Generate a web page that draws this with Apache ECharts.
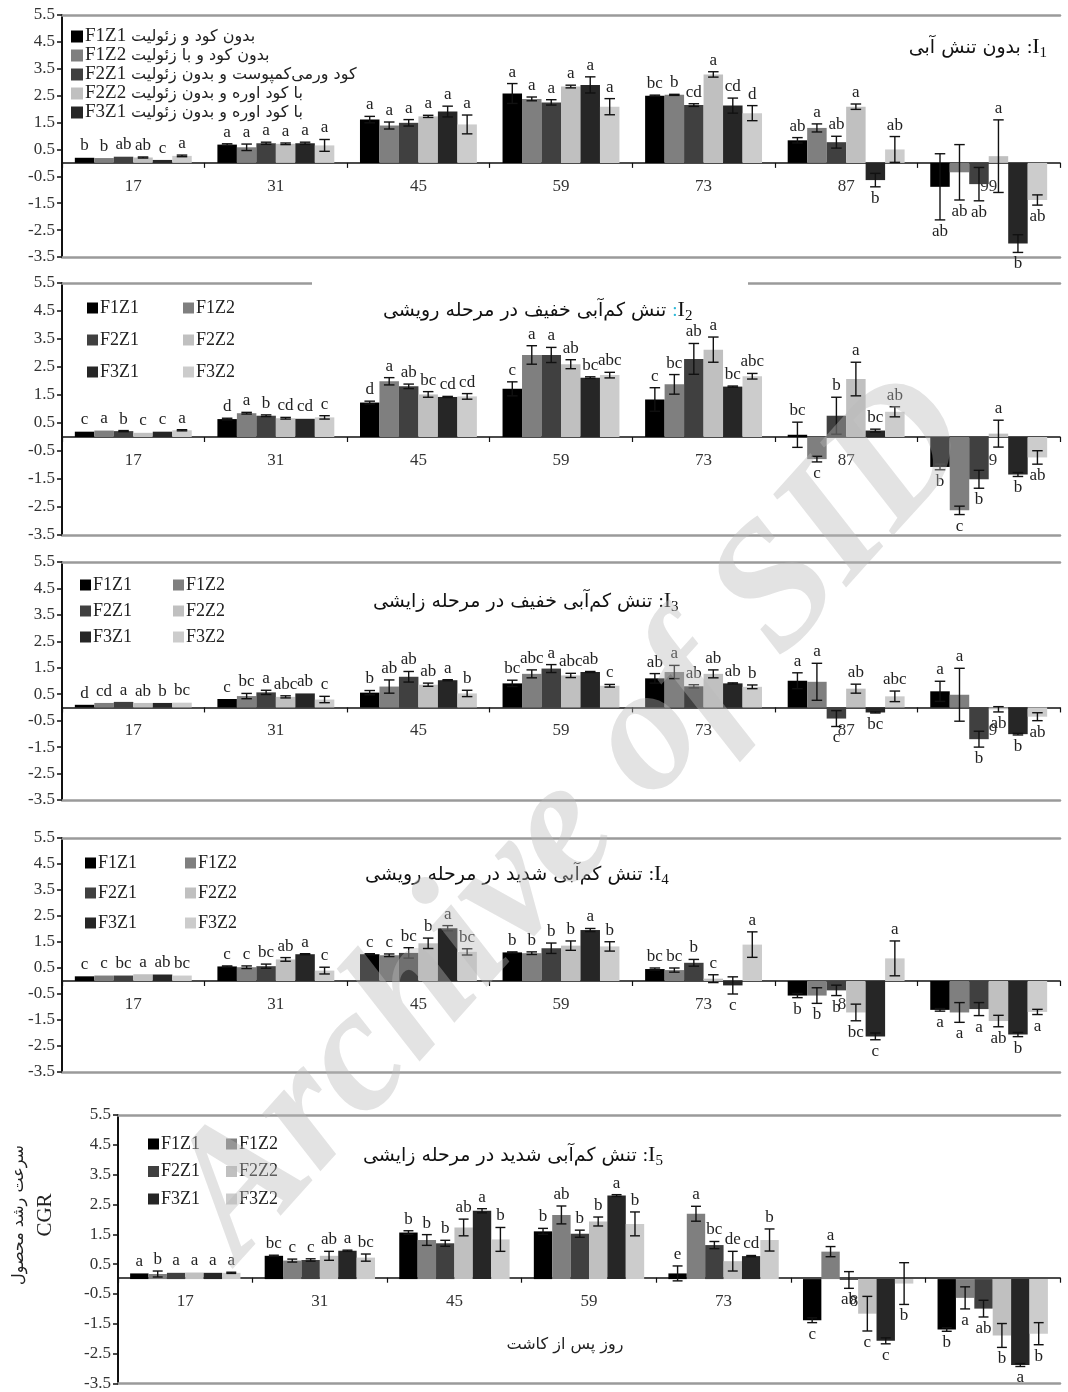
<!DOCTYPE html>
<html><head><meta charset="utf-8">
<script src="https://cdn.jsdelivr.net/npm/echarts@6/dist/echarts.min.js"></script>
<style>html,body{margin:0;padding:0;background:#fff}#c{width:1068px;height:1392px}</style>
</head><body><div id="c"></div>
<script>
// ---------- data ----------
const categories = ['17','31','45','59','73','87','99'];
const seriesNames = ['F1Z1','F1Z2','F2Z1','F2Z2','F3Z1','F3Z2'];
const seriesColors = ['#000000','#7f7f7f','#404040','#c0c0c0','#262626','#cccccc'];
const yTicks = [-3.5,-2.5,-1.5,-0.5,0.5,1.5,2.5,3.5,4.5,5.5];
const legendPersian = ['بدون کود و زئولیت','بدون کود و با زئولیت','کود ورمی‌کمپوست و بدون زئولیت','با کود اوره و بدون زئولیت','با کود اوره و بدون زئولیت'];
const panelTitles = ['بدون تنش آبی','تنش کم‌آبی خفیف در مرحله رویشی','تنش کم‌آبی خفیف در مرحله زایشی','تنش کم‌آبی شدید در مرحله رویشی','تنش کم‌آبی شدید در مرحله زایشی'];
const yAxisTitle = 'سرعت رشد محصول';
const yAxisTitle2 = 'CGR';
const xAxisTitle = 'روز پس از کاشت';

const I1_mean = [
  [0.19, 0.68, 1.61, 2.58, 2.50, 0.84, -0.89],
  [0.18, 0.58, 1.39, 2.38, 2.53, 1.30, -0.35],
  [0.23, 0.73, 1.49, 2.25, 2.15, 0.77, -0.79],
  [0.20, 0.71, 1.73, 2.84, 3.29, 2.09, 0.25],
  [0.11, 0.73, 1.91, 2.90, 2.13, -0.64, -3.00],
  [0.26, 0.65, 1.43, 2.09, 1.85, 0.50, -1.38]];
const I1_se = [
  [0.01, 0.03, 0.12, 0.37, 0.02, 0.10, 1.23],
  [0.01, 0.12, 0.13, 0.07, 0.02, 0.15, 1.03],
  [0.01, 0.04, 0.12, 0.10, 0.05, 0.22, 0.62],
  [0.02, 0.03, 0.04, 0.05, 0.10, 0.10, 1.35],
  [0.01, 0.04, 0.20, 0.30, 0.28, 0.25, 0.33],
  [0.03, 0.22, 0.35, 0.30, 0.28, 0.48, 0.19]];
const I1_letters = [
  ['b','a','a','a','bc','ab','ab'],
  ['b','a','a','a','b','a','ab'],
  ['ab','a','a','a','cd','ab','ab'],
  ['ab','a','a','a','a','a','a'],
  ['c','a','a','a','cd','b','b'],
  ['a','a','a','a','d','ab','ab']];

const I2_mean = [
  [0.19, 0.64, 1.23, 1.72, 1.34, 0.08, -1.07],
  [0.23, 0.85, 1.99, 2.93, 1.88, -0.79, -2.62],
  [0.21, 0.76, 1.81, 2.93, 2.79, 0.76, -1.51],
  [0.15, 0.67, 1.52, 2.60, 3.12, 2.07, 0.12],
  [0.19, 0.65, 1.43, 2.12, 1.80, 0.23, -1.34],
  [0.24, 0.70, 1.45, 2.21, 2.17, 0.90, -0.73]];
const I2_se = [
  [0.01, 0.03, 0.05, 0.25, 0.42, 0.45, 0.10],
  [0.01, 0.03, 0.13, 0.33, 0.35, 0.10, 0.15],
  [0.02, 0.03, 0.08, 0.27, 0.55, 0.66, 0.32],
  [0.01, 0.03, 0.10, 0.16, 0.45, 0.60, 0.48],
  [0.01, 0.01, 0.02, 0.03, 0.02, 0.05, 0.07],
  [0.02, 0.06, 0.10, 0.10, 0.10, 0.18, 0.24]];
const I2_letters = [
  ['c','d','d','c','c','bc','b'],
  ['a','a','a','a','bc','c','c'],
  ['b','b','ab','a','ab','b','b'],
  ['c','cd','bc','ab','a','a','a'],
  ['c','cd','cd','bc','bc','bc','b'],
  ['a','c','cd','abc','abc','ab','ab']];

const I3_mean = [
  [0.10, 0.32, 0.56, 0.91, 1.10, 1.01, 0.61],
  [0.17, 0.43, 0.79, 1.27, 1.34, 0.97, 0.48],
  [0.21, 0.57, 1.16, 1.47, 0.80, -0.42, -1.20],
  [0.17, 0.40, 0.86, 1.21, 1.27, 0.71, -0.07],
  [0.17, 0.53, 1.03, 1.34, 0.91, -0.19, -1.01],
  [0.18, 0.30, 0.53, 0.82, 0.78, 0.42, -0.35]];
const I3_se = [
  [0.01, 0.01, 0.08, 0.12, 0.18, 0.30, 0.38],
  [0.01, 0.10, 0.25, 0.15, 0.25, 0.70, 1.00],
  [0.01, 0.08, 0.20, 0.15, 0.06, 0.30, 0.30],
  [0.01, 0.04, 0.06, 0.08, 0.15, 0.17, 0.10],
  [0.01, 0.01, 0.02, 0.02, 0.02, 0.02, 0.03],
  [0.01, 0.12, 0.12, 0.05, 0.07, 0.20, 0.15]];
const I3_letters = [
  ['d','c','b','bc','ab','a','a'],
  ['cd','bc','ab','abc','a','a','a'],
  ['a','a','ab','a','ab','c','b'],
  ['ab','abc','ab','abc','ab','ab','ab'],
  ['b','ab','a','ab','ab','bc','b'],
  ['bc','c','b','c','b','abc','ab']];

const I4_mean = [
  [0.18, 0.56, 1.03, 1.10, 0.46, -0.56, -1.11],
  [0.21, 0.53, 0.99, 1.07, 0.42, -0.56, -1.21],
  [0.21, 0.57, 1.08, 1.26, 0.70, -0.36, -1.08],
  [0.26, 0.83, 1.45, 1.36, 0.09, -1.21, -1.54],
  [0.25, 1.03, 2.03, 1.96, -0.17, -2.13, -2.06],
  [0.21, 0.40, 1.12, 1.33, 1.40, 0.87, -1.19]];
const I4_se = [
  [0.01, 0.02, 0.02, 0.02, 0.04, 0.08, 0.05],
  [0.01, 0.05, 0.05, 0.05, 0.08, 0.30, 0.38],
  [0.01, 0.08, 0.20, 0.20, 0.13, 0.20, 0.25],
  [0.01, 0.07, 0.20, 0.18, 0.15, 0.32, 0.22],
  [0.01, 0.02, 0.10, 0.06, 0.33, 0.13, 0.08],
  [0.01, 0.13, 0.12, 0.18, 0.49, 0.67, 0.10]];
const I4_letters = [
  ['c','c','c','b','bc','b','a'],
  ['c','c','c','b','bc','b','a'],
  ['bc','bc','bc','b','b','b','a'],
  ['a','ab','b','b','c','bc','ab'],
  ['ab','a','a','a','c','c','b'],
  ['bc','c','bc','b','a','a','a']];

const I5_mean = [
  [0.19, 0.78, 1.56, 1.60, 0.19, -1.38, -1.69],
  [0.17, 0.62, 1.31, 2.15, 2.19, 0.92, -0.63],
  [0.21, 0.64, 1.20, 1.52, 1.14, -0.03, -0.99],
  [0.22, 0.78, 1.73, 1.93, 0.60, -1.16, -1.89],
  [0.21, 0.95, 2.29, 2.80, 0.77, -2.07, -2.88],
  [0.21, 0.72, 1.33, 1.85, 1.31, -0.15, -1.83]];
const I5_se = [
  [0.01, 0.02, 0.06, 0.10, 0.25, 0.08, 0.06],
  [0.10, 0.05, 0.18, 0.30, 0.25, 0.17, 0.37],
  [0.01, 0.04, 0.10, 0.12, 0.12, 0.28, 0.28],
  [0.01, 0.15, 0.28, 0.15, 0.33, 0.58, 0.40],
  [0.01, 0.02, 0.07, 0.03, 0.02, 0.10, 0.05],
  [0.02, 0.12, 0.40, 0.40, 0.37, 0.70, 0.37]];
const I5_letters = [
  ['a','bc','b','b','e','c','b'],
  ['b','c','b','ab','a','a','a'],
  ['a','c','b','b','bc','ab','ab'],
  ['a','ab','ab','b','de','c','b'],
  ['a','a','a','a','cd','c','a'],
  ['a','bc','b','b','b','b','b']];

// ---------- layout ----------
const SERIF = '"Liberation Serif", "Times New Roman", serif';
const PERS = '"DejaVu Sans", "Noto Sans", sans-serif';
const Y_MIN = -3.5, Y_MAX = 5.5;
const panels = [
  {mean: I1_mean, se: I1_se, letters: I1_letters},
  {mean: I2_mean, se: I2_se, letters: I2_letters},
  {mean: I3_mean, se: I3_se, letters: I3_letters},
  {mean: I4_mean, se: I4_se, letters: I4_letters},
  {mean: I5_mean, se: I5_se, letters: I5_letters}];
const gridBoxes = [
  {left: 62, top: 15, width: 998, height: 242},
  {left: 62, top: 283, width: 998, height: 252},
  {left: 62, top: 562, width: 998, height: 238},
  {left: 62, top: 838, width: 998, height: 234},
  {left: 118, top: 1115, width: 942, height: 272}];
const BAR_FRAC = 0.82;

const grid = [], xAxis = [], yAxis = [], series = [], title = [], legend = [];

panels.forEach((p, k) => {
  const gb = gridBoxes[k];
  grid.push(Object.assign({containLabel: false}, gb));
  // category axis drawn along the zero line
  xAxis.push({
    gridIndex: k, type: 'category', data: categories, position: 'bottom',
    offset: -gb.height * (0 - Y_MIN) / (Y_MAX - Y_MIN),
    axisLine: {onZero: false, lineStyle: {color: '#111', width: 1.5}},
    axisTick: {show: true, length: 5, lineStyle: {color: '#111', width: 1.2}},
    axisLabel: {fontSize: 17, fontFamily: SERIF, color: '#333', margin: 15},
    splitLine: {show: false}, z: 0
  });
  ['top', 'bottom'].forEach(pos => xAxis.push({
    gridIndex: k, type: 'category', data: categories, position: pos,
    axisLine: {onZero: false, lineStyle: {color: '#9a9a9a', width: 2.5}},
    axisTick: {show: false}, axisLabel: {show: false}, splitLine: {show: false}
  }));
  yAxis.push({
    gridIndex: k, type: 'value', min: Y_MIN, max: Y_MAX,
    axisLine: {show: true, onZero: false, lineStyle: {color: '#111', width: 2}},
    axisTick: {show: true, length: 5, customValues: yTicks, lineStyle: {color: '#111', width: 1.5}},
    axisLabel: {customValues: yTicks, fontSize: 17, fontFamily: SERIF, color: '#333', margin: 7,
      formatter: v => v.toFixed(1)},
    splitLine: {show: false}
  });
  const xi = 3 * k;
  seriesNames.forEach((name, s) => {
    series.push({
      type: 'bar', name: name, xAxisIndex: xi, yAxisIndex: k,
      data: p.mean[s], itemStyle: {color: seriesColors[s]},
      barGap: '0%', barCategoryGap: ((1 - BAR_FRAC) * 100) + '%',
      z: 2, animation: false
    });
  });
  const errData = [], letterFlat = [];
  seriesNames.forEach((name, s) => {
    categories.forEach((c, ci) => {
      errData.push([ci, p.mean[s][ci], p.se[s][ci], s]);
      letterFlat.push(p.letters[s][ci]);
    });
  });
  series.push({
    type: 'custom', name: 'err' + k, xAxisIndex: xi, yAxisIndex: k, z: 5,
    data: errData, encode: {x: 0, y: 1}, animation: false, silent: true,
    renderItem: function (params, api) {
      const c = api.value(0), v = api.value(1), e = api.value(2), s = api.value(3);
      const base = api.coord([c, v]);
      const band = api.size([1, 0])[0];
      const bw = band * BAR_FRAC / 6;
      const x = base[0] + (s - 2.5) * bw;
      const yt = api.coord([c, v + e])[1];
      const yb = api.coord([c, v - e])[1];
      const cap = bw * 0.27;
      const st = {stroke: '#111', lineWidth: 1.4};
      const children = [];
      if (e >= 0.02) {
        children.push({type: 'line', shape: {x1: x, y1: yt, x2: x, y2: yb}, style: st});
        children.push({type: 'line', shape: {x1: x - cap, y1: yt, x2: x + cap, y2: yt}, style: st});
        children.push({type: 'line', shape: {x1: x - cap, y1: yb, x2: x + cap, y2: yb}, style: st});
      }
      const pos = v >= 0;
      children.push({type: 'text', x: x, y: pos ? yt - 3 : yb + 3,
        style: {text: letterFlat[params.dataIndex], fill: '#222', fontSize: 17, fontFamily: SERIF,
          align: 'center', verticalAlign: pos ? 'bottom' : 'top'}});
      return {type: 'group', children: children};
    }
  });
});

// titles
const titleRich = {
  p: {fontSize: 19, fontFamily: PERS, fontWeight: 'normal', color: '#111', verticalAlign: 'bottom', padding: [0, 0, 3, 0]},
  c: {fontSize: 19, fontFamily: SERIF, fontWeight: 'normal', color: '#111', verticalAlign: 'bottom', padding: [0, 0, 3, 0]},
  cc: {fontSize: 19, fontFamily: SERIF, fontWeight: 'normal', color: '#2bb8d8', verticalAlign: 'bottom', padding: [0, 0, 3, 0]},
  i: {fontSize: 22, fontFamily: SERIF, fontWeight: 'normal', color: '#111', verticalAlign: 'bottom', padding: [0, 0, 3, 0]},
  s: {fontSize: 15, fontFamily: SERIF, fontWeight: 'normal', color: '#111', verticalAlign: 'bottom'}
};
const titlePos = [
  {right: 16, top: 31},
  {left: 378, top: 294},
  {left: 368, top: 585},
  {left: 360, top: 858},
  {left: 358, top: 1139}];
panelTitles.forEach((t, k) => {
  const colon = k === 1 ? '{cc|:}' : '{c|:}';
  title.push(Object.assign({
    text: '{p|' + t + ' }' + colon + '{i|I}{s|' + (k + 1) + '}',
    textStyle: {fontWeight: 'normal', rich: titleRich}
  }, titlePos[k]));
});

// legends
legend.push({
  orient: 'vertical', left: 66, top: 22, itemGap: 0, itemWidth: 12, itemHeight: 12, icon: 'rect',
  data: seriesNames.slice(0, 5), selectedMode: false,
  formatter: name => '{n|' + name + '} {f|' + legendPersian[seriesNames.indexOf(name)] + '}',
  textStyle: {fontSize: 19, fontFamily: SERIF, color: '#222', lineHeight: 17, padding: [0, 0, 0, -3],
    rich: {n: {fontSize: 19, fontFamily: SERIF, color: '#222', lineHeight: 17},
           f: {fontSize: 16, fontFamily: PERS, color: '#222', lineHeight: 17}}}
});
const legPos = [
  null,
  {c1: 82, c2: 178, top: 294, gap: 14},
  {c1: 75, c2: 168, top: 571, gap: 8},
  {c1: 80, c2: 180, top: 849, gap: 12},
  {c1: 143, c2: 221, top: 1130, gap: 9.5}];
for (let k = 1; k < 5; k++) {
  const lp = legPos[k];
  [[0, 2, 4, lp.c1], [1, 3, 5, lp.c2]].forEach(col => {
    legend.push({
      orient: 'vertical', left: col[3], top: lp.top, itemGap: lp.gap, itemWidth: 11, itemHeight: 11,
      icon: 'rect', selectedMode: false,
      data: [seriesNames[col[0]], seriesNames[col[1]], seriesNames[col[2]]],
      textStyle: {fontSize: 18, fontFamily: SERIF, color: '#222', lineHeight: 16, padding: [0, 0, 0, -3]}
    });
  });
}

const graphic = [
  // gap in panel 2 top frame line
  {type: 'rect', left: 312, top: 279, shape: {width: 436, height: 9}, style: {fill: '#fff'}, z: 100},
  {type: 'text', x: 32, y: 1215, rotation: Math.PI / 2, z: 100,
    style: {text: '{a|' + yAxisTitle + '}\n{b|' + yAxisTitle2 + '}', align: 'center', verticalAlign: 'middle',
      rich: {a: {fontSize: 16, fontFamily: PERS, fill: '#222', lineHeight: 26},
             b: {fontSize: 21, fontFamily: SERIF, fill: '#222', lineHeight: 26}}}},
  {type: 'text', x: 565, y: 1345, z: 100,
    style: {text: xAxisTitle, fontSize: 16, fontFamily: PERS, fill: '#222', align: 'center', verticalAlign: 'middle'}},
  // watermark
  {type: 'text', x: 575, y: 820, rotation: 48 * Math.PI / 180, z: 200, silent: true,
    style: {text: 'Archive of SID', font: 'italic bold 178px "Liberation Serif"', fill: 'rgba(185,185,185,0.40)',
      align: 'center', verticalAlign: 'middle'}}
];

const chart = echarts.init(document.getElementById('c'), null, {renderer: 'canvas'});
chart.setOption({
  backgroundColor: '#fff', animation: false,
  grid, xAxis, yAxis, series, title, legend, graphic
});
</script></body></html>
